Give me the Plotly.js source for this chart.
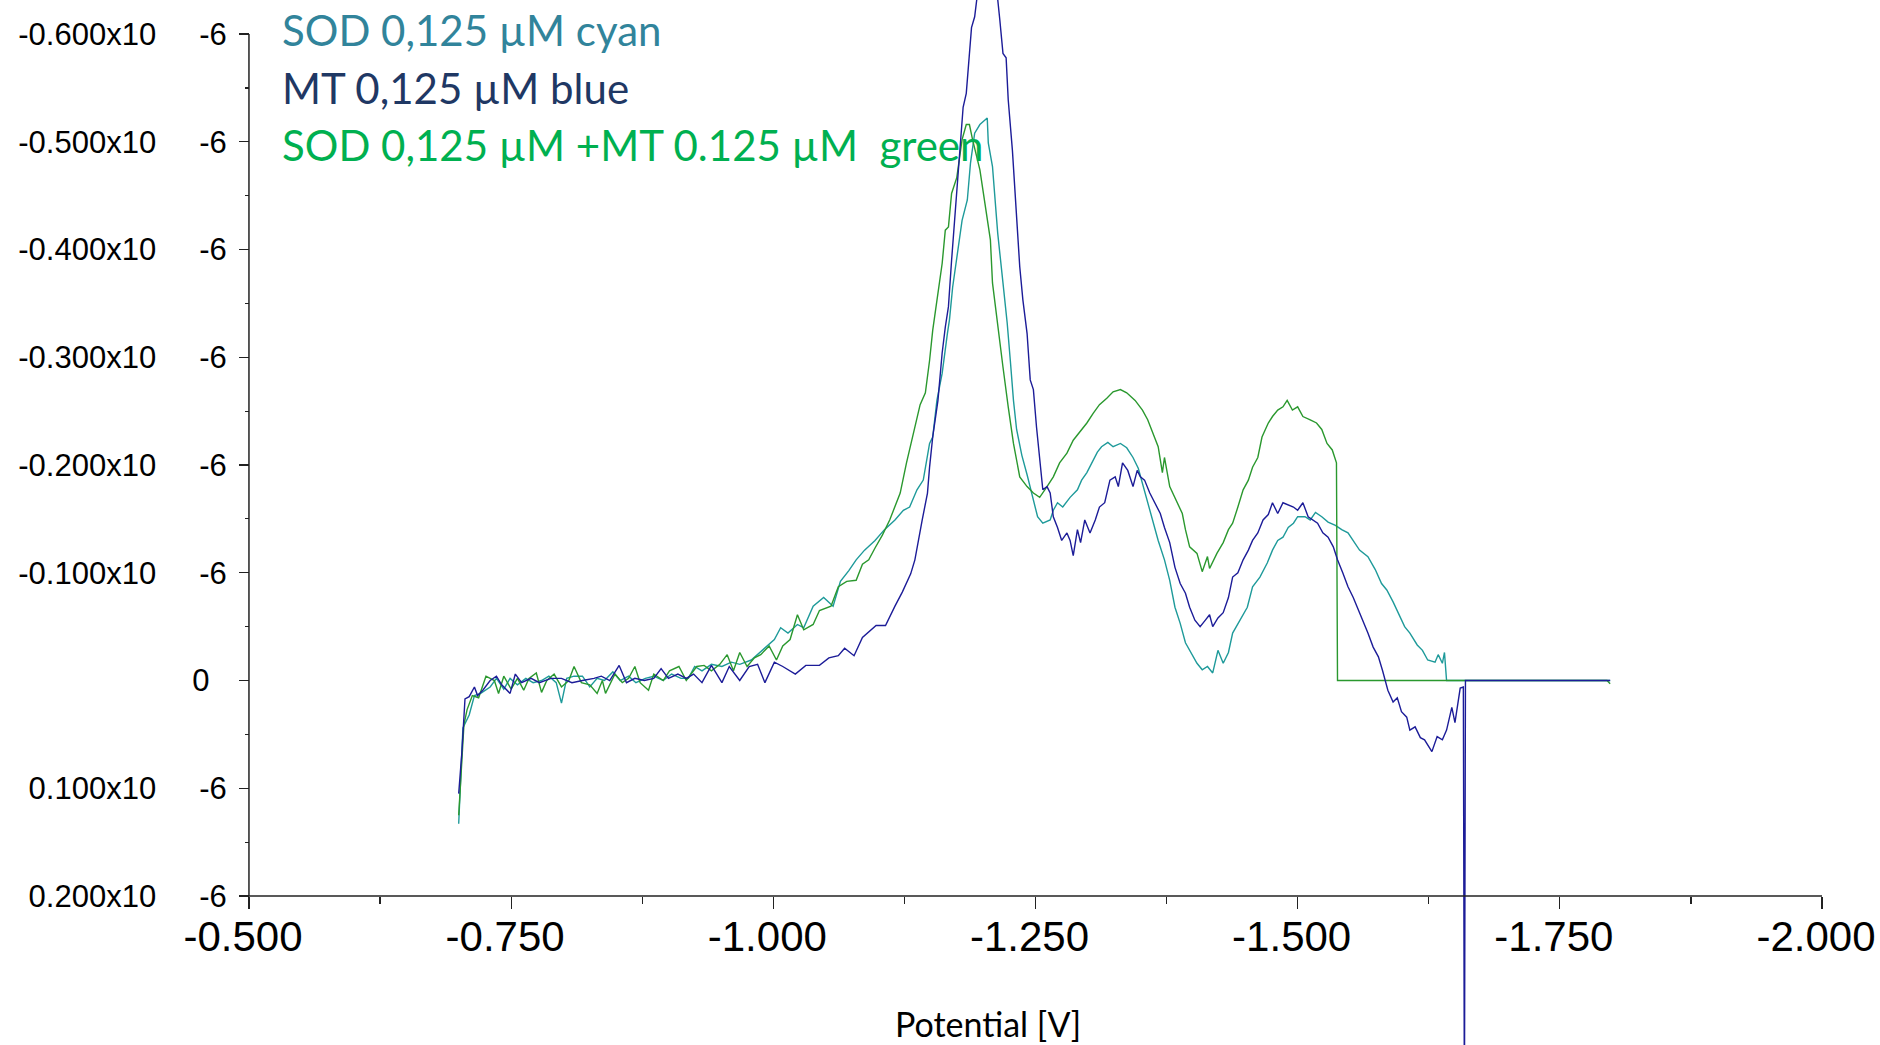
<!DOCTYPE html>
<html>
<head>
<meta charset="utf-8">
<script src="https://cdn.plot.ly/plotly-3.0.1.min.js"></script>
<style>
  html, body { margin: 0; padding: 0; background: #ffffff; }
  #chart { width: 1880px; height: 1045px; }
</style>
</head>
<body>
<div id="chart"></div>
<script>
// Potential in V, current in units of 1e-6 A (negative = up, axis reversed)

const potential_sod = [
  -0.700,-0.703,-0.704,-0.710,-0.715,-0.721,-0.730,-0.736,-0.743,-0.749,-0.756,-0.764,-0.771,-0.779,-0.786,-0.793,-0.798,-0.803,-0.810,-0.818,
  -0.825,-0.832,-0.839,-0.847,-0.854,-0.862,-0.869,-0.878,-0.886,-0.895,-0.903,-0.912,-0.919,-0.925,-0.932,-0.941,-0.951,-0.960,-0.968,-0.979,
  -0.987,-0.994,-1.001,-1.007,-1.014,-1.023,-1.029,-1.038,-1.048,-1.057,-1.064,-1.072,-1.079,-1.087,-1.097,-1.106,-1.116,-1.124,-1.130,-1.137,
  -1.143,-1.149,-1.152,-1.156,-1.161,-1.166,-1.168,-1.171,-1.176,-1.180,-1.185,-1.188,-1.192,-1.197,-1.204,-1.205,-1.209,-1.211,-1.214,-1.219,
  -1.223,-1.226,-1.229,-1.232,-1.237,-1.242,-1.248,-1.252,-1.257,-1.264,-1.267,-1.271,-1.276,-1.283,-1.290,-1.294,-1.299,-1.304,-1.309,-1.313,
  -1.319,-1.324,-1.331,-1.337,-1.343,-1.348,-1.352,-1.357,-1.362,-1.367,-1.373,-1.378,-1.383,-1.388,-1.393,-1.397,-1.404,-1.409,-1.414,-1.419,
  -1.424,-1.429,-1.434,-1.438,-1.445,-1.452,-1.457,-1.464,-1.471,-1.476,-1.481,-1.486,-1.491,-1.496,-1.500,-1.507,-1.512,-1.517,-1.523,-1.529,
  -1.536,-1.542,-1.548,-1.553,-1.559,-1.567,-1.574,-1.580,-1.585,-1.591,-1.596,-1.602,-1.607,-1.614,-1.619,-1.624,-1.631,-1.634,-1.638,-1.640,
  -1.642,-1.700,-1.798
];
const current_sod = [
  0.133,0.067,0.044,0.032,0.014,0.012,0.006,-0.002,0.008,-0.002,0.004,-0.002,0.002,0.000,-0.004,0.002,0.021,-0.002,-0.004,-0.004,
  0.006,-0.002,0.000,-0.008,0.000,-0.004,0.002,-0.002,-0.004,0.000,-0.006,-0.002,-0.002,-0.013,-0.009,-0.015,-0.013,-0.017,-0.015,-0.019,
  -0.026,-0.032,-0.038,-0.049,-0.044,-0.052,-0.049,-0.069,-0.077,-0.069,-0.092,-0.102,-0.112,-0.121,-0.130,-0.140,-0.149,-0.158,-0.161,-0.177,
  -0.186,-0.220,-0.226,-0.260,-0.285,-0.322,-0.335,-0.365,-0.397,-0.427,-0.446,-0.480,-0.508,-0.516,-0.522,-0.499,-0.477,-0.452,-0.415,-0.369,
  -0.332,-0.297,-0.260,-0.233,-0.209,-0.191,-0.167,-0.152,-0.146,-0.149,-0.158,-0.165,-0.161,-0.170,-0.177,-0.186,-0.193,-0.202,-0.212,-0.217,
  -0.221,-0.217,-0.220,-0.216,-0.207,-0.197,-0.183,-0.165,-0.149,-0.130,-0.112,-0.093,-0.068,-0.053,-0.035,-0.028,-0.016,-0.010,-0.013,-0.007,
  -0.028,-0.016,-0.026,-0.044,-0.056,-0.068,-0.087,-0.096,-0.109,-0.121,-0.130,-0.133,-0.142,-0.146,-0.152,-0.152,-0.149,-0.156,-0.152,-0.147,
  -0.144,-0.140,-0.137,-0.130,-0.121,-0.115,-0.103,-0.090,-0.084,-0.073,-0.063,-0.050,-0.044,-0.033,-0.028,-0.019,-0.017,-0.024,-0.016,-0.026,
  0.000,0.000,0.000
];

const potential_mt = [
  -0.700,-0.703,-0.706,-0.710,-0.715,-0.718,-0.723,-0.730,-0.736,-0.741,-0.749,-0.754,-0.760,-0.769,-0.777,-0.788,-0.798,-0.808,-0.818,-0.829,
  -0.836,-0.844,-0.853,-0.860,-0.868,-0.877,-0.886,-0.893,-0.900,-0.909,-0.917,-0.924,-0.932,-0.941,-0.951,-0.958,-0.968,-0.977,-0.985,-0.992,
  -1.001,-1.009,-1.021,-1.031,-1.044,-1.053,-1.062,-1.068,-1.077,-1.085,-1.098,-1.107,-1.116,-1.123,-1.131,-1.135,-1.142,-1.147,-1.149,-1.152,
  -1.157,-1.161,-1.164,-1.167,-1.170,-1.175,-1.178,-1.181,-1.184,-1.186,-1.189,-1.192,-1.194,-1.203,-1.214,-1.216,-1.219,-1.222,-1.224,-1.228,
  -1.230,-1.232,-1.235,-1.238,-1.242,-1.245,-1.248,-1.251,-1.254,-1.257,-1.261,-1.264,-1.267,-1.271,-1.275,-1.280,-1.283,-1.286,-1.290,-1.293,
  -1.297,-1.302,-1.307,-1.311,-1.316,-1.321,-1.326,-1.329,-1.333,-1.338,-1.343,-1.347,-1.350,-1.354,-1.359,-1.364,-1.369,-1.373,-1.378,-1.383,
  -1.388,-1.393,-1.397,-1.402,-1.407,-1.412,-1.416,-1.419,-1.424,-1.429,-1.434,-1.438,-1.443,-1.448,-1.453,-1.457,-1.462,-1.467,-1.472,-1.476,
  -1.481,-1.486,-1.491,-1.496,-1.500,-1.505,-1.510,-1.515,-1.519,-1.524,-1.529,-1.534,-1.538,-1.543,-1.548,-1.553,-1.557,-1.562,-1.567,-1.572,
  -1.577,-1.581,-1.586,-1.591,-1.595,-1.599,-1.604,-1.607,-1.612,-1.617,-1.621,-1.628,-1.633,-1.638,-1.642,-1.647,-1.650,-1.655,-1.658,-1.659,
  -1.660,-1.700,-1.798
];
const current_mt = [
  0.105,0.067,0.017,0.015,0.006,0.014,0.009,0.000,-0.004,0.004,0.012,-0.006,0.002,-0.002,0.002,-0.002,-0.002,0.002,0.000,-0.002,
  -0.004,0.000,-0.014,0.002,-0.002,0.000,-0.002,-0.011,-0.002,-0.006,-0.002,-0.006,0.002,-0.014,0.002,-0.013,0.000,-0.013,-0.015,0.002,
  -0.017,-0.013,-0.006,-0.014,-0.014,-0.021,-0.023,-0.030,-0.023,-0.040,-0.051,-0.051,-0.069,-0.082,-0.099,-0.112,-0.149,-0.174,-0.198,-0.226,
  -0.260,-0.304,-0.328,-0.347,-0.390,-0.452,-0.492,-0.532,-0.545,-0.569,-0.606,-0.616,-0.632,-0.650,-0.632,-0.613,-0.582,-0.578,-0.539,-0.492,
  -0.458,-0.427,-0.384,-0.353,-0.322,-0.279,-0.270,-0.235,-0.207,-0.177,-0.180,-0.174,-0.152,-0.142,-0.130,-0.137,-0.130,-0.116,-0.140,-0.128,
  -0.149,-0.137,-0.149,-0.161,-0.165,-0.186,-0.189,-0.180,-0.202,-0.195,-0.180,-0.195,-0.189,-0.186,-0.174,-0.165,-0.155,-0.142,-0.128,-0.105,
  -0.090,-0.081,-0.068,-0.056,-0.050,-0.056,-0.061,-0.050,-0.058,-0.063,-0.077,-0.096,-0.100,-0.112,-0.121,-0.130,-0.137,-0.149,-0.154,-0.165,
  -0.155,-0.165,-0.163,-0.161,-0.158,-0.165,-0.152,-0.149,-0.146,-0.137,-0.133,-0.124,-0.112,-0.100,-0.087,-0.077,-0.068,-0.056,-0.044,-0.031,
  -0.022,-0.009,0.009,0.020,0.016,0.029,0.034,0.046,0.043,0.053,0.055,0.066,0.052,0.055,0.046,0.025,0.039,0.007,0.006,0.400,
  0.000,0.000,0.000
];

const potential_sod_mt = [
  -0.700,-0.703,-0.705,-0.708,-0.713,-0.719,-0.726,-0.734,-0.738,-0.743,-0.750,-0.756,-0.762,-0.767,-0.774,-0.779,-0.784,-0.791,-0.798,-0.805,
  -0.810,-0.817,-0.825,-0.832,-0.837,-0.840,-0.849,-0.856,-0.862,-0.868,-0.873,-0.881,-0.886,-0.895,-0.901,-0.910,-0.917,-0.927,-0.934,-0.941,
  -0.949,-0.956,-0.962,-0.968,-0.975,-0.982,-0.988,-0.996,-1.003,-1.009,-1.016,-1.023,-1.029,-1.038,-1.044,-1.055,-1.062,-1.070,-1.079,-1.085,
  -1.091,-1.097,-1.104,-1.111,-1.121,-1.127,-1.133,-1.140,-1.145,-1.149,-1.152,-1.156,-1.161,-1.164,-1.167,-1.170,-1.175,-1.180,-1.184,-1.187,
  -1.190,-1.197,-1.202,-1.207,-1.209,-1.214,-1.219,-1.224,-1.229,-1.235,-1.242,-1.248,-1.254,-1.261,-1.267,-1.273,-1.280,-1.286,-1.292,-1.299,
  -1.305,-1.311,-1.318,-1.324,-1.331,-1.337,-1.345,-1.352,-1.357,-1.362,-1.367,-1.371,-1.373,-1.378,-1.385,-1.390,-1.393,-1.397,-1.404,-1.409,
  -1.414,-1.416,-1.423,-1.429,-1.434,-1.438,-1.443,-1.448,-1.453,-1.457,-1.462,-1.466,-1.472,-1.476,-1.481,-1.486,-1.490,-1.495,-1.500,-1.505,
  -1.512,-1.518,-1.523,-1.528,-1.533,-1.537,-1.538,-1.600,-1.700,-1.795,-1.798
];
const current_sod_mt = [
  0.125,0.067,0.041,0.027,0.014,0.016,-0.004,0.000,0.012,-0.004,0.008,-0.002,0.009,-0.002,-0.007,0.011,0.000,-0.006,0.006,0.000,
  -0.013,0.002,0.004,0.012,0.000,0.012,-0.006,0.002,-0.002,-0.013,0.002,0.009,-0.006,0.000,-0.009,-0.013,0.000,-0.013,-0.014,-0.009,
  -0.015,-0.024,-0.009,-0.026,-0.013,-0.021,-0.024,-0.032,-0.019,-0.032,-0.038,-0.061,-0.047,-0.052,-0.065,-0.069,-0.087,-0.092,-0.093,-0.108,
  -0.112,-0.123,-0.135,-0.149,-0.174,-0.202,-0.226,-0.256,-0.267,-0.297,-0.325,-0.353,-0.387,-0.418,-0.421,-0.452,-0.467,-0.502,-0.516,-0.516,
  -0.502,-0.474,-0.439,-0.409,-0.369,-0.328,-0.291,-0.254,-0.220,-0.189,-0.180,-0.174,-0.170,-0.180,-0.189,-0.202,-0.211,-0.223,-0.230,-0.239,
  -0.248,-0.256,-0.262,-0.268,-0.270,-0.267,-0.260,-0.251,-0.242,-0.230,-0.217,-0.193,-0.207,-0.180,-0.165,-0.155,-0.140,-0.124,-0.118,-0.101,
  -0.115,-0.104,-0.118,-0.128,-0.140,-0.146,-0.161,-0.177,-0.186,-0.198,-0.207,-0.226,-0.239,-0.245,-0.251,-0.254,-0.260,-0.251,-0.254,-0.245,
  -0.242,-0.239,-0.233,-0.220,-0.214,-0.202,0.000,0.000,0.000,0.000,0.003
];

const y_tickvals = [-0.6, -0.5, -0.4, -0.3, -0.2, -0.1, 0, 0.1, 0.2];
const y_minor_tickvals = [-0.55, -0.45, -0.35, -0.25, -0.15, -0.05, 0.05, 0.15];
const y_ticktext_base = ['-0.600x10', '-0.500x10', '-0.400x10', '-0.300x10', '-0.200x10', '-0.100x10', '0', '0.100x10', '0.200x10'];
const y_exponent = '-6';
const x_tickvals = [-0.5, -0.75, -1.0, -1.25, -1.5, -1.75, -2.0];
const x_minor_tickvals = [-0.625, -0.875, -1.125, -1.375, -1.625, -1.875];
const x_ticktext = ['-0.500', '-0.750', '-1.000', '-1.250', '-1.500', '-1.750', '-2.000'];

const legend_lines = ['SOD 0,125 µM cyan', 'MT 0,125 µM blue', 'SOD 0,125 µM +MT 0.125 µM\u00a0\u00a0green'];
const x_title = 'Potential [V]';

const NB = '\u00a0';
const y_ticktext = y_ticktext_base.map(t => t === '0' ? '0' + NB + NB : t + NB.repeat(5) + y_exponent);

const W = 1880, H = 1045;
const axisX = 249, axisY = 896;

const traces = [
  { x: potential_sod, y: current_sod, type: 'scatter', mode: 'lines', name: 'SOD',
    line: { color: '#1E9A9A', width: 1.4 } },
  { x: potential_sod_mt, y: current_sod_mt, type: 'scatter', mode: 'lines', name: 'SOD+MT',
    line: { color: '#2A982E', width: 1.4 } },
  { x: potential_mt, y: current_mt, type: 'scatter', mode: 'lines', name: 'MT',
    line: { color: '#1C1C98', width: 1.4 } }
];

const legendColors = ['#31849B', '#1F3864', '#00B050'];
const legendY = [30, 87.5, 145];

const annotations = legend_lines.map((t, i) => ({
  text: t, xref: 'paper', yref: 'paper', x: 280 / W, y: 1 - legendY[i] / H,
  xanchor: 'left', yanchor: 'middle', showarrow: false,
  font: { size: 42, family: 'Lato, sans-serif', color: legendColors[i] }
}));
annotations.push({
  text: x_title, xref: 'paper', yref: 'paper', x: 988 / W, y: 1 - 1023 / H,
  xanchor: 'center', yanchor: 'middle', showarrow: false,
  font: { size: 34, family: 'Lato, sans-serif', color: '#000' }
});

const layout = {
  width: W, height: H,
  margin: { l: 0, r: 0, t: 0, b: 0, pad: 0 },
  paper_bgcolor: '#ffffff', plot_bgcolor: '#ffffff',
  showlegend: false,
  font: { family: 'Liberation Sans, Arial, sans-serif', color: '#000000' },
  xaxis: {
    range: [-0.2626, -2.0553],
    anchor: 'free', position: 1 - axisY / H,
    showline: false, zeroline: false, showgrid: false,
    tickmode: 'array', tickvals: x_tickvals, ticktext: x_ticktext,
    ticks: 'outside', ticklen: 12, tickwidth: 1.2, tickcolor: '#222',
    ticklabelstandoff: -8, ticklabelshift: 6, ticklabeloverflow: 'allow',
    tickfont: { size: 42, family: 'Liberation Sans, Arial, sans-serif', color: '#000' },
    minor: { tickmode: 'array', tickvals: x_minor_tickvals, ticks: 'outside', ticklen: 7, tickwidth: 1.2, tickcolor: '#222', showgrid: false },
    automargin: false, fixedrange: true
  },
  yaxis: {
    range: [0.3383, -0.6316],
    anchor: 'free', position: axisX / W,
    showline: false, zeroline: false, showgrid: false,
    tickmode: 'array', tickvals: y_tickvals, ticktext: y_ticktext,
    ticks: 'outside', ticklen: 10, tickwidth: 1.2, tickcolor: '#222',
    ticklabelstandoff: 6, ticklabeloverflow: 'allow',
    tickfont: { size: 31, family: 'Liberation Sans, Arial, sans-serif', color: '#000' },
    minor: { tickmode: 'array', tickvals: y_minor_tickvals, ticks: 'outside', ticklen: 4, tickwidth: 1.2, tickcolor: '#222', showgrid: false },
    automargin: false, fixedrange: true
  },
  shapes: [
    { type: 'line', xref: 'x', yref: 'y', x0: -0.5, x1: -2.0, y0: 0.2, y1: 0.2, line: { color: '#222', width: 1.5 } },
    { type: 'line', xref: 'x', yref: 'y', x0: -0.5, x1: -0.5, y0: -0.6, y1: 0.2, line: { color: '#222', width: 1.5 } }
  ],
  annotations: annotations
};

Plotly.newPlot('chart', traces, layout, { staticPlot: true, displayModeBar: false });
</script>
</body>
</html>
